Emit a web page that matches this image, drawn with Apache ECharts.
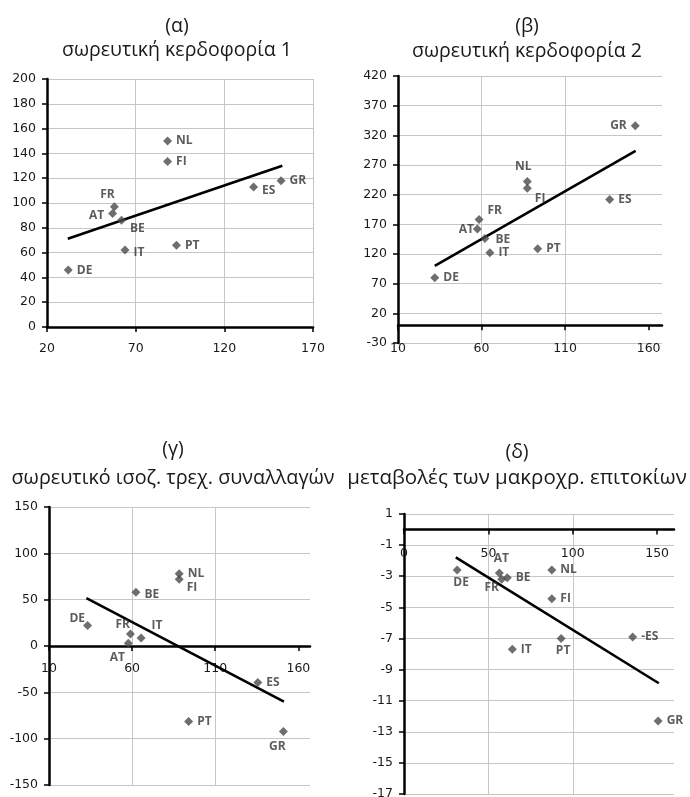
<!DOCTYPE html>
<html><head><meta charset="utf-8">
<script src="https://cdn.jsdelivr.net/npm/echarts@6/dist/echarts.min.js"></script>
<style>html,body{margin:0;padding:0;background:#fff}#c{width:690px;height:797px}</style>
</head><body><div id="c"></div>
<script>
// ---------- data ----------
const countries = ['NL', 'FI', 'GR', 'ES', 'FR', 'AT', 'BE', 'IT', 'PT', 'DE'];

// (α) σωρευτική κερδοφορία 1
const xA = [88, 88, 152, 136.5, 58, 57, 62, 64, 93, 32];
const yA = [150, 133.5, 118, 113, 97, 91.5, 86, 62, 66, 46];
const trendA = [[31.7, 71.1], [152.7, 130]];

// (β) σωρευτική κερδοφορία 2
const xB = [87.4, 87.4, 152, 136.7, 58.5, 57.5, 62, 65, 93.6, 32];
const yB = [242, 231, 336, 212, 178, 162, 146, 122, 129, 80];
const trendB = [[32, 100], [152.2, 294]];

// (γ) σωρευτικό ισοζ. τρεχ. συναλλαγών
const xC = [88.3, 88.3, 151, 135.6, 59, 57.7, 62.3, 65.4, 94, 33.2];
const yC = [78, 72, -92.4, -39.4, 13, 3, 58, 8.5, -81.6, 22];
const trendC = [[32.5, 51.7], [151.3, -60]];

// (δ) μεταβολές των μακροχρ. επιτοκίων
const xD = [87.6, 87.6, 150.6, 135.5, 57.9, 56.5, 61.2, 64.2, 93.1, 31.5];
const yD = [-2.6, -4.45, -12.3, -6.9, -3.2, -2.8, -3.1, -7.7, -7, -2.6];
const labelsD = ['NL', 'FI', 'GR', '-ES', 'FR', 'AT', 'BE', 'IT', 'PT', 'DE'];
const trendD = [[30.7, -1.79], [151, -9.88]];

// axis ticks
const xTicksA = [20, 70, 120, 170];
const xTicksB = [10, 60, 110, 160];
const xTicksC = [10, 60, 110, 160];
const xTicksD = [0, 50, 100, 150];
const xMaxes = [170, 168, 167, 160];
const yRangeA = [0, 200, 20];
const yRangeB = [-30, 420, 50];
const yRangeC = [-150, 150, 50];
const yRangeD = [-17, 1, 2];

const titles = ['(α)', '(β)', '(γ)', '(δ)'];
const subtitles = ['σωρευτική κερδοφορία 1', 'σωρευτική κερδοφορία 2',
  'σωρευτικό ισοζ. τρεχ. συναλλαγών', 'μεταβολές των μακροχρ. επιτοκίων'];

// ---------- layout (label placement per panel) ----------
const placeA = {NL:['right',0,0], FI:['right',0,0], GR:['right',0,0], ES:['right',0,4], FR:['top',-7,2],
  AT:['left',0,2], BE:['right',0,8], IT:['right',0,2], PT:['right',0,0], DE:['right',0,1]};
const placeB = {NL:['top',-4,-1], FI:['right',-1,10], GR:['left',0,0], ES:['right',0,0], FR:['right',0,-9],
  AT:['left',5,0], BE:['right',2,1], IT:['right',0,0], PT:['right',0,0], DE:['right',0,0]};
const placeC = {NL:['right',0,0], FI:['right',-1,8], GR:['bottom',-6,0], ES:['right',0,0], FR:['left',8,-9],
  AT:['bottom',-11,0], BE:['right',0,2], IT:['right',2,-13], PT:['right',0,0], DE:['left',6,-7]};
const placeD = {NL:['right',0,0], FI:['right',0,0], GR:['right',0,0], ES:['right',0,0], FR:['bottom',-10,-6],
  AT:['top',2,0], BE:['right',0,0], IT:['right',0,0], PT:['bottom',2,-2], DE:['bottom',4,-2]};

const grids = [
  {left: 47, top: 79, width: 266, height: 248, outerBoundsMode: 'none', containLabel: false},
  {left: 398, top: 76, width: 264, height: 267, outerBoundsMode: 'none', containLabel: false},
  {left: 49, top: 507, width: 261, height: 278, outerBoundsMode: 'none', containLabel: false},
  {left: 404, top: 514, width: 270, height: 280, outerBoundsMode: 'none', containLabel: false}
];
// [centerX, top of letter line, top of subtitle, title size, subtitle size]
const titlePos = [[177, 16, 40, 19.5, 19.5], [527, 16, 41, 19.5, 19.5],
  [173, 439, 468, 19.5, 19.8], [517, 442, 468, 19.5, 20.5]];

const AXIS_FONT = 'DejaVu Sans';
const LABEL_FONT = 'Open Sans';
const TITLE_FONT = 'Open Sans';

function axisBase() {
  return {
    type: 'value',
    axisLine: {show: true, onZero: true, lineStyle: {color: '#000', width: 2.5}},
    axisTick: {show: true, inside: false, length: 5, lineStyle: {color: '#000', width: 1.5}},
    splitLine: {show: true, lineStyle: {color: '#c6c6c6', width: 1}},
    axisLabel: {color: '#1a1a1a', fontSize: 12.5, fontFamily: AXIS_FONT}
  };
}
function xAxisFor(gi, ticks, max) {
  const a = axisBase();
  a.gridIndex = gi;
  a.min = ticks[0];
  a.max = max;
  a.interval = ticks[1] - ticks[0];
  a.position = 'bottom';
  a.axisLabel.margin = 16;
  a.axisLabel.customValues = ticks;
  a.axisTick.customValues = ticks;
  a.axisLabel.formatter = v => (ticks.indexOf(v) >= 0 ? String(v) : '');
  if (max !== ticks[ticks.length - 1]) a.splitLine.showMaxLine = false;
  return a;
}
function labelAxisFor(gi, ticks, max, yRange, atZero, margin) {
  const a = xAxisFor(gi, ticks, max);
  a.axisLine = {show: false, onZero: false};
  a.axisTick = {show: false};
  a.splitLine = {show: false};
  a.axisLabel.margin = margin;
  if (atZero) {
    const g = grids[gi];
    a.offset = -g.height * (0 - yRange[0]) / (yRange[1] - yRange[0]);
  }
  return a;
}
function yAxisFor(gi, r) {
  const a = axisBase();
  a.gridIndex = gi;
  a.min = r[0]; a.max = r[1]; a.interval = r[2];
  a.axisLabel.margin = 11;
  return a;
}

const xAxes = [
  xAxisFor(0, xTicksA, xMaxes[0]),
  xAxisFor(1, xTicksB, xMaxes[1]),
  xAxisFor(2, xTicksC, xMaxes[2]),
  xAxisFor(3, xTicksD, xMaxes[3])
];
xAxes[0].axisLabel.margin = 15;
// panels β, γ, δ: axis line at zero without labels, labels on separate axes
xAxes[1].axisLabel.show = false;
xAxes[2].axisLabel.show = false;
xAxes[3].axisLabel.show = false;
xAxes.push(labelAxisFor(1, xTicksB, xMaxes[1], yRangeB, false, -1));
xAxes.push(labelAxisFor(2, xTicksC, xMaxes[2], yRangeC, true, 16));
xAxes.push(labelAxisFor(3, xTicksD, xMaxes[3], yRangeD, true, 18));

const yAxes = [yAxisFor(0, yRangeA), yAxisFor(1, yRangeB), yAxisFor(2, yRangeC), yAxisFor(3, yRangeD)];

function scatterData(xs, ys, names, place) {
  return xs.map((x, i) => {
    const p = place[countries[i]];
    return {
      value: [x, ys[i]],
      name: names[i],
      label: {position: p[0], offset: [p[1], p[2]]}
    };
  });
}

const panels = [
  [xA, yA, countries, placeA, trendA],
  [xB, yB, countries, placeB, trendB],
  [xC, yC, countries, placeC, trendC],
  [xD, yD, labelsD, placeD, trendD]
];

const series = [];
panels.forEach((p, i) => {
  series.push({
    type: 'line', xAxisIndex: i, yAxisIndex: i, data: p[4],
    showSymbol: false, symbol: 'none', silent: true, animation: false,
    lineStyle: {color: '#000', width: 2.6}, z: 2
  });
  series.push({
    type: 'scatter', xAxisIndex: i, yAxisIndex: i, animation: false,
    symbol: 'diamond', symbolSize: 9,
    itemStyle: {color: '#4a4a4a'},
    label: {show: true, formatter: '{b}', fontSize: 12, fontWeight: 'bold',
      fontFamily: LABEL_FONT, color: '#333', distance: 4},
    data: scatterData(p[0], p[1], p[2], p[3]), z: 3
  });
});

const titleList = [];
titles.forEach((t, i) => {
  const tp = titlePos[i];
  titleList.push({text: t, left: tp[0], top: tp[1], textAlign: 'center', padding: 0,
    textStyle: {fontFamily: TITLE_FONT, fontSize: tp[3], fontWeight: 'normal', color: '#1a1a1a'}});
  titleList.push({text: subtitles[i], left: tp[0], top: tp[2], textAlign: 'center', padding: 0,
    textStyle: {fontFamily: TITLE_FONT, fontSize: tp[4], fontWeight: 'normal', color: '#1a1a1a'}});
});

const chart = echarts.init(document.getElementById('c'), null, {renderer: 'canvas'});
chart.setOption({
  backgroundColor: '#fff',
  animation: false,
  title: titleList,
  grid: grids,
  xAxis: xAxes,
  yAxis: yAxes,
  series: series
});
</script>
</body></html>
